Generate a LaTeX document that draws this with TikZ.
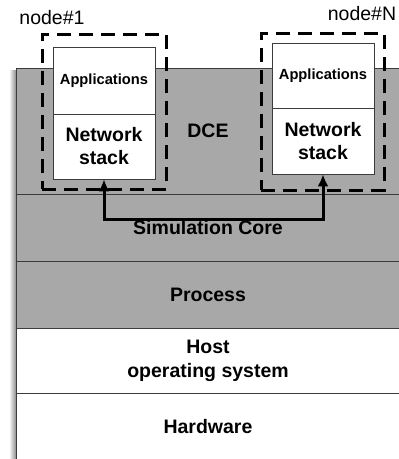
\documentclass[tikz,border=0pt]{standalone}
\usepackage{fontspec}
\setmainfont{Liberation Sans}
\usetikzlibrary{arrows.meta}
\definecolor{layergray}{RGB}{168,168,169}
\definecolor{edgegray}{RGB}{60,60,60}
\begin{document}
\begin{tikzpicture}[x=1pt,y=-1pt,
  layer/.style={rectangle,draw=edgegray,line width=0.8pt,minimum width=384pt,inner sep=0pt,
    font=\fontsize{19.5}{24}\selectfont\bfseries,align=center},
  graylayer/.style={layer,fill=layergray},
  whitelayer/.style={layer,fill=white},
  stackbox/.style={rectangle,draw=edgegray,line width=0.8pt,fill=white,minimum width=102pt,inner sep=0pt,
    font=\fontsize{19.5}{23}\selectfont\bfseries,align=center},
  appbox/.style={stackbox,font=\fontsize{14.7}{17}\selectfont\bfseries},
  nodegroup/.style={rectangle,draw=black,line width=3pt,dash pattern=on 14pt off 8pt,inner sep=0pt},
  nodelabel/.style={font=\fontsize{19.5}{23}\selectfont,inner sep=0pt},
  conn/.style={line width=3pt,{Latex[length=12pt,width=11pt]}-{Latex[length=12pt,width=11pt]}}
]
\useasboundingbox (0,0) rectangle (399,459);
\clip (0,0) rectangle (399,459);
\fill[white] (0,0) rectangle (399,459);
% shadow on the left edge
\shade[left color=white,right color=black!45] (9,70) rectangle (16,470);
% layers
\node[graylayer,minimum height=126pt] (dce) at (208,131) {DCE};
\node[graylayer,minimum height=67pt] (core) at (208,227.5) {\raisebox{-1.5pt}{Simulation Core}};
\node[graylayer,minimum height=67pt] (proc) at (208,294.5) {Process};
\node[whitelayer,minimum height=65pt] (host) at (208,360.5) {Host\\operating system};
\node[whitelayer,minimum height=68pt] (hw) at (208,427) {Hardware};
% node#1
\node[nodegroup,minimum width=124pt,minimum height=155pt] (grp1) at (104,111.5) {};
\node[appbox,minimum height=67pt] (app1) at (104,80.5) {Applications};
\node[stackbox,minimum height=65pt] (ns1) at (104,146.5) {Network\\stack};
\node[nodelabel] (lab1) at (52,18) {node\#1};
% node#N
\node[nodegroup,minimum width=123pt,minimum height=157pt] (grpN) at (322.5,111.5) {};
\node[appbox,minimum height=65pt] (appN) at (323,75.5) {Applications};
\node[stackbox,minimum height=66pt] (nsN) at (323,141) {Network\\stack};
\node[nodelabel] (labN) at (362,14) {node\#N};
% connector
\coordinate (mid) at (323,219);
\draw[conn] (ns1.south) |- (mid) -- (nsN.south);
\end{tikzpicture}
\end{document}
